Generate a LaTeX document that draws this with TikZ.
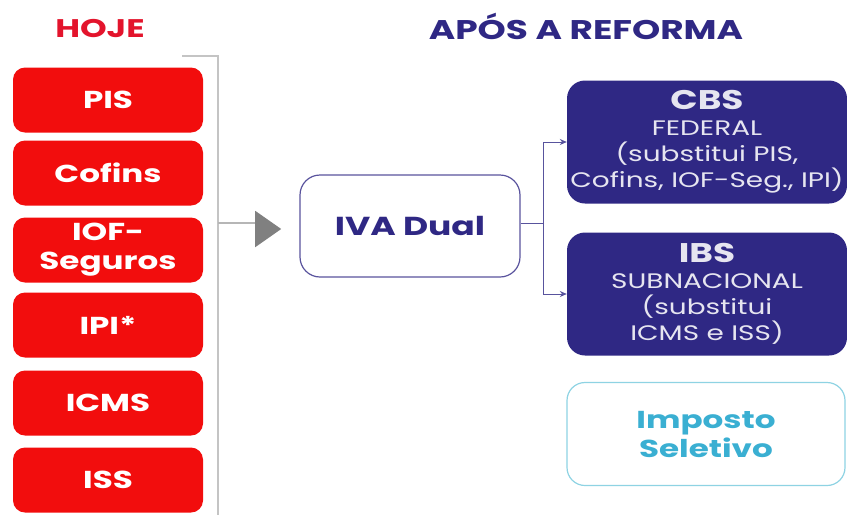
\documentclass[tikz,border=0pt]{standalone}
\usepackage{fontspec}
\setmainfont{Poppins}[FakeStretch=1.33]
\usetikzlibrary{arrows.meta}
\usetikzlibrary{shapes.geometric}
\definecolor{hojered}{HTML}{F20D0D}
\definecolor{titlered}{HTML}{E3142C}
\definecolor{navy}{HTML}{2F2884}
\definecolor{seltext}{HTML}{3AAFD2}
\definecolor{selline}{HTML}{8ED3E3}
\definecolor{bracketgray}{HTML}{C4C4C4}

\begin{document}
\begin{tikzpicture}[x=1pt,y=-1pt,
	redbox/.style = {rectangle, rounded corners=12pt, fill=hojered, text=white, minimum width=190pt, minimum height=65pt, align=center, font=\fontsize{24.5}{29}\selectfont\bfseries},
	navybox/.style = {rectangle, rounded corners=18pt, fill=navy, text=white!88!navy, minimum width=280pt, minimum height=123pt, align=center, font=\fontsize{21}{26}\selectfont},
	title/.style = {font=\fontsize{25.5}{27}\selectfont\bfseries}]
	\useasboundingbox (0,0) rectangle (847,515);
	\node[title, text=titlered] (hoje) at (100,29) {HOJE};
	\node[title, text=navy, font=\fontsize{27}{27}\selectfont\bfseries] (apos) at (586,26) {APÓS A REFORMA};
	\begin{scope}[every node/.style={redbox}]
		\node (pis) at (108,100) {PIS};
		\node (cofins) at (108,173) {Cofins};
		\node (iof) at (108,250) {IOF-\\Seguros};
		\node (ipi) at (108,325) {IPI*};
		\node (icms) at (108,403) {ICMS};
		\node (iss) at (108,480) {ISS};
	\end{scope}
	\coordinate (btop) at (182,56);
	\coordinate (bcorner) at (218,56);
	\coordinate (bbottom) at (218,515);
	\coordinate (bmid) at (218,223);
	\draw [bracketgray, line width=1.2pt] (btop) -- (bcorner) -- (bbottom);
	\node[isosceles triangle, isosceles triangle apex angle=70, fill=gray, inner sep=0pt, minimum height=26pt, minimum width=34pt, anchor=west] (tri) at (255,229) {};
	\draw [bracketgray!80!gray, line width=1.2pt] (bmid) -- (tri.west |- bmid);
	\node[rectangle, rounded corners=20pt, draw=navy!80, line width=1.2pt, minimum width=220pt, minimum height=102pt, text=navy, font=\fontsize{26}{27}\selectfont\bfseries] (iva) at (410,226) {IVA Dual};
	\node[navybox] (cbs) at (707,142) {{\fontsize{27}{27}\selectfont\bfseries CBS}\\FEDERAL\\(substitui PIS,\\Cofins, IOF-Seg., IPI)};
	\node[navybox] (ibs) at (707,294) {{\fontsize{27}{27}\selectfont\bfseries IBS}\\SUBNACIONAL\\(substitui\\ICMS e ISS)};
	\node[rectangle, rounded corners=18pt, draw=selline, line width=1.2pt, minimum width=278pt, minimum height=103pt, text=seltext, align=center, font=\fontsize{24.5}{29}\selectfont\bfseries] (sel) at (706,434) {Imposto\\Seletivo};
	\coordinate (split) at (543,223);
	\draw [navy!80, line width=1pt] (iva.east |- split) -- (split);
	\draw [navy!80, line width=1pt, -{Stealth[length=7pt,width=6pt]}] (split) |- (cbs.west);
	\draw [navy!80, line width=1pt, -{Stealth[length=7pt,width=6pt]}] (split) |- (ibs.west);
\end{tikzpicture}
\end{document}
